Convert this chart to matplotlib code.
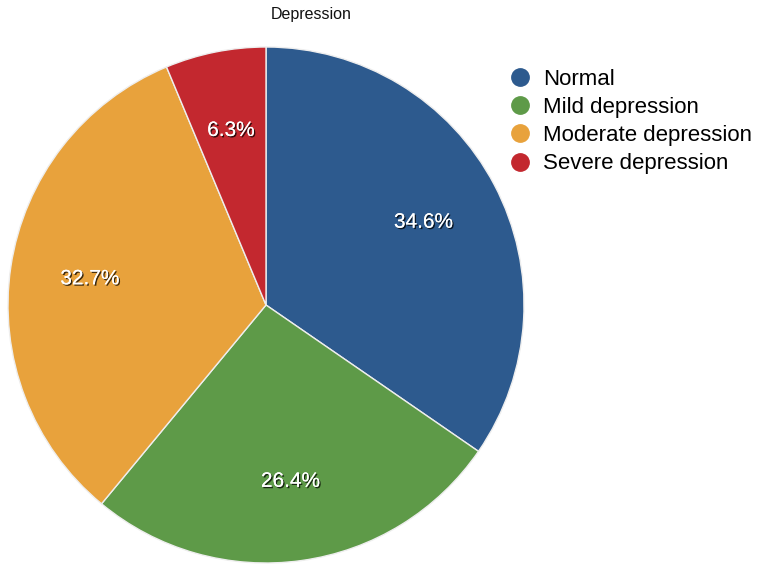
import matplotlib
matplotlib.use("Agg")
import matplotlib.pyplot as plt
import matplotlib.patheffects as pe
from matplotlib.lines import Line2D

plt.rcParams['font.family'] = ['Liberation Sans', 'DejaVu Sans']

title = "Depression"
categories = ["Normal", "Mild depression", "Moderate depression", "Severe depression"]
values = [34.6, 26.4, 32.7, 6.3]
colors = ["#2D5A8E", "#5E9A48", "#E8A23C", "#C3282F"]

W, H = 759, 570
fig = plt.figure(figsize=(W / 100, H / 100), dpi=100)
cx, cy, r = 266, 305, 258
ax = fig.add_axes([(cx - r) / W, (H - cy - r) / H, 2 * r / W, 2 * r / H])

wedges, texts, autotexts = ax.pie(
    values, colors=colors, startangle=90, counterclock=False,
    autopct='%1.1f%%', pctdistance=0.69, radius=1.0,
    wedgeprops=dict(edgecolor='#eeeeee', linewidth=1.0),
    textprops=dict(color='white', fontsize=15))
for t in autotexts:
    t.set_path_effects([pe.withSimplePatchShadow(offset=(1, -1), shadow_rgbFace='black', alpha=0.75), pe.Normal()])
ax.set_xlim(-1, 1)
ax.set_ylim(-1, 1)
ax.set_aspect('equal')
ax.axis('off')

fig.text(311 / W, 1 - 14 / H, title, ha='center', va='center', fontsize=11.5, color='#111111')

handles = [Line2D([], [], marker='o', linestyle='none', markersize=12.5,
                  markerfacecolor=c, markeredgecolor=c) for c in colors]
fig.legend(handles, categories, loc='upper left', bbox_to_anchor=(509 / W, 1 - 69 / H),
           frameon=False, fontsize=16, handlelength=0.95, handletextpad=0.6,
           labelspacing=0.32, borderpad=0, borderaxespad=0)

fig.savefig("out.png", dpi=100)
